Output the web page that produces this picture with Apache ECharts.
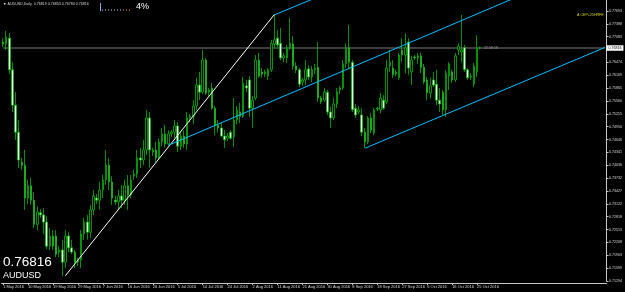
<!DOCTYPE html>
<html><head><meta charset="utf-8">
<script src="https://cdn.jsdelivr.net/npm/echarts@6/dist/echarts.min.js"></script>
<style>html,body{margin:0;padding:0;background:#000}#c{width:625px;height:292px}</style>
</head><body><div id="c"></div>
<script>
// ---- data (AUDUSD daily, 1 May 2016 .. 26 Oct 2016, broker has Sunday bars) ----
const openPrices = [.7696,.7691,.7705,.7630,.7546,.7482,.7411,.7404,.7326,.7355,.7321,.7264,.7291,.7286,.7269,.7212,.7236,.7236,.7198,.7203,
.7174,.7236,.7208,.7198,.7174,.7179,.7241,.7269,.7245,.7298,.7326,.7321,.7345,.7369,.7404,.7364,.7321,.7317,.7331,.7321,
.7355,.7333,.7378,.7383,.7421,.7416,.7440,.7516,.7435,.7440,.7421,.7459,.7478,.7454,.7478,.7482,.7497,.7449,.7473,.7454,
.7516,.7520,.7544,.7594,.7577,.7653,.7577,.7587,.7539,.7499,.7492,.7473,.7468,.7482,.7471,.7511,.7530,.7520,.7592,.7606,
.7539,.7563,.7653,.7625,.7620,.7615,.7630,.7691,.7705,.7693,.7658,.7658,.7682,.7691,.7639,.7630,.7601,.7606,.7632,.7613,
.7630,.7636,.7563,.7558,.7577,.7530,.7516,.7549,.7582,.7587,.7644,.7682,.7648,.7539,.7530,.7523,.7482,.7459,.7516,.7480,
.7537,.7535,.7558,.7554,.7639,.7634,.7620,.7611,.7677,.7665,.7696,.7625,.7660,.7658,.7663,.7636,.7606,.7575,.7606,.7596,
.7558,.7577,.7535,.7615,.7625,.7606,.7677,.7672,.7682,.7630,.7613,.7596,.7625,.76819];
const highPrices = [.7705,.7722,.7717,.7648,.7577,.7511,.7421,.7440,.7369,.7374,.7340,.7307,.7300,.7302,.7283,.7255,.7250,.7250,.7212,.7227,
.7250,.7245,.7227,.7203,.7184,.7250,.7279,.7286,.7310,.7345,.7336,.7364,.7381,.7440,.7421,.7378,.7331,.7345,.7357,.7369,
.7381,.7381,.7393,.7440,.7445,.7464,.7535,.7530,.7445,.7459,.7468,.7492,.7499,.7487,.7487,.7511,.7506,.7482,.7487,.7530,
.7525,.7558,.7611,.7625,.7677,.7658,.7587,.7599,.7544,.7511,.7506,.7487,.7480,.7487,.7563,.7544,.7551,.7613,.7606,.7615,
.7568,.7665,.7670,.7634,.7630,.7634,.7701,.7762,.7724,.7729,.7670,.7689,.7753,.7710,.7648,.7634,.7611,.7653,.7641,.7639,
.7644,.7696,.7568,.7587,.7582,.7542,.7563,.7587,.7592,.7653,.7693,.7736,.7653,.7549,.7544,.7539,.7492,.7520,.7527,.7539,
.7542,.7575,.7570,.7653,.7677,.7653,.7630,.7670,.7705,.7717,.7705,.7663,.7665,.7670,.7670,.7644,.7613,.7611,.7625,.7630,
.7587,.7582,.7630,.7648,.7630,.7670,.7693,.7760,.7689,.7634,.7622,.7646,.7712,.76853];
const lowPrices = [.7684,.7677,.7620,.7530,.7464,.7397,.7393,.7298,.7312,.7310,.7255,.7250,.7279,.7241,.7205,.7203,.7203,.7186,.7186,.7141,
.7160,.7198,.7193,.7160,.7165,.7160,.7227,.7227,.7231,.7286,.7312,.7298,.7326,.7357,.7345,.7310,.7310,.7298,.7302,.7310,
.7298,.7326,.7369,.7374,.7397,.7404,.7428,.7397,.7426,.7411,.7416,.7449,.7445,.7452,.7471,.7468,.7435,.7440,.7445,.7440,
.7506,.7501,.7535,.7558,.7573,.7570,.7568,.7535,.7475,.7482,.7471,.7445,.7461,.7464,.7447,.7501,.7504,.7516,.7577,.7518,
.7492,.7558,.7611,.7611,.7613,.7606,.7625,.7682,.7684,.7653,.7648,.7646,.7677,.7630,.7622,.7589,.7592,.7594,.7606,.7601,
.7620,.7554,.7549,.7554,.7523,.7492,.7511,.7539,.7573,.7582,.7634,.7634,.7530,.7516,.7525,.7473,.7445,.7454,.7480,.7475,
.7532,.7527,.7535,.7549,.7625,.7611,.7615,.7606,.7648,.7622,.7618,.7594,.7653,.7644,.7622,.7596,.7558,.7563,.7589,.7546,
.7530,.7523,.7518,.7582,.7599,.7601,.7665,.7648,.7625,.7606,.7606,.7589,.7613,.76784];
const closePrices = [.7691,.7708,.7630,.7546,.7482,.7416,.7404,.7326,.7355,.7321,.7264,.7293,.7286,.7269,.7212,.7236,.7212,.7193,.7203,.7174,
.7236,.7208,.7198,.7174,.7179,.7241,.7269,.7245,.7298,.7331,.7321,.7345,.7369,.7404,.7364,.7326,.7317,.7331,.7321,.7355,
.7333,.7369,.7383,.7421,.7416,.7440,.7516,.7440,.7440,.7421,.7459,.7478,.7454,.7478,.7482,.7497,.7449,.7473,.7454,.7516,
.7520,.7544,.7594,.7577,.7653,.7575,.7582,.7539,.7499,.7492,.7473,.7464,.7473,.7468,.7511,.7535,.7520,.7599,.7587,.7539,
.7558,.7653,.7615,.7620,.7625,.7630,.7693,.7701,.7689,.7658,.7663,.7682,.7693,.7639,.7630,.7596,.7606,.7630,.7613,.7630,
.7634,.7563,.7554,.7577,.7530,.7516,.7549,.7577,.7587,.7644,.7682,.7648,.7535,.7523,.7535,.7482,.7459,.7516,.7487,.7535,
.7539,.7563,.7539,.7634,.7648,.7618,.7625,.7665,.7665,.7682,.7634,.7653,.7658,.7663,.7636,.7601,.7575,.7592,.7594,.7558,
.7549,.7535,.7622,.7644,.7606,.7663,.7686,.7677,.7630,.7611,.7615,.7639,.7682,.76816];
const bidPrice = 0.76816;
const headerText = '\u25BC AUDUSD,Daily  0.76819 0.76853 0.76784 0.76816';
// trend objects: [bar index, price]
const whiteLine  = [[20, 0.7142], [87, 0.7761]];
const channelMid = [[53, 0.7451], [163, 0.7797]];
const channelTop = [[87, 0.7760], [100, 0.7800]];
const channelLow = [[116, 0.7444], [193, 0.7683]];
const bidLine    = [[0, bidPrice], [193, bidPrice]];
// price-axis scale (labels every 0.003047 starting at the bottom label)
const priceMin = 0.71294, priceMax = 0.77954, priceStep = 0.003047;
const monthNames = ['Jan','Feb','Mar','Apr','May','Jun','Jul','Aug','Sep','Oct','Nov','Dec'];
const barCount = 194; // includes the empty chart-shift area on the right
const categories = [];
const t0 = Date.UTC(2016, 4, 1);
for (let i = 0; i < barCount; i++) {
  const w = Math.floor(i / 6), d = i % 6;
  const t = new Date(t0 + (7 * w + d) * 86400000);
  categories.push(t.getUTCDate() + ' ' + monthNames[t.getUTCMonth()] + ' ' + t.getUTCFullYear());
}
const lastLabelled = 152;
const showLabel = (idx) => idx % 8 === 0 && idx <= lastLabelled;

const candles = openPrices.map((o, i) => [o, closePrices[i], lowPrices[i], highPrices[i]]);
const FONT = '"Liberation Sans", Arial, sans-serif';

const chart = echarts.init(document.getElementById('c'), null, {renderer: 'canvas'});
chart.setOption({
  backgroundColor: '#000',
  animation: false,
  grid: {left: 1.5, right: 18, top: 0, bottom: 11, containLabel: false},
  xAxis: {
    type: 'category', data: categories, boundaryGap: true, offset: 2,
    axisLine: {lineStyle: {color: '#c8c8c8', width: 1}},
    axisTick: {show: true, alignWithLabel: true, interval: (i) => showLabel(i), length: 2, lineStyle: {color: '#c8c8c8'}},
    axisLabel: {interval: (i) => showLabel(i), align: 'left', fontSize: 4, color: '#d8d8d8', margin: 1.5, fontFamily: FONT},
    splitLine: {show: false}
  },
  yAxis: {
    type: 'value', position: 'right', min: priceMin, max: priceMax, interval: priceStep,
    axisLine: {show: true, lineStyle: {color: '#c8c8c8', width: 1}},
    axisTick: {show: true, length: 2, lineStyle: {color: '#c8c8c8'}},
    axisLabel: {fontSize: 3.6, color: '#d8d8d8', margin: 2.5, fontFamily: FONT, showMaxLabel: false,
      formatter: (v) => (Math.abs(v - bidPrice) < priceStep * 0.6 ? '' : v.toFixed(5))},
    splitLine: {show: false}
  },
  series: [
    {type: 'line', z: 1, data: bidLine, symbol: 'none', silent: true,
      lineStyle: {color: '#7a7a7a', width: 1},
      endLabel: {show: true, formatter: bidPrice.toFixed(5), color: '#000', backgroundColor: '#fff',
        fontSize: 3.6, fontFamily: FONT, padding: [1, 2, 0.5, 2], distance: 1.5}},
    {
      type: 'candlestick', z: 2, data: candles, barWidth: 2,
      itemStyle: {color: '#000', color0: '#fff', borderColor: '#00b800', borderColor0: '#00b800', borderWidth: 0.8}
    },
    {type: 'line', z: 5, data: [{value: whiteLine[0], symbol: 'rect', symbolSize: 3}, whiteLine[1]],
      symbol: 'none', showSymbol: true, itemStyle: {color: '#fff'}, lineStyle: {color: '#ffffff', width: 1}},
    {type: 'line', z: 5, data: channelMid, symbol: 'none', lineStyle: {color: '#00bfff', width: 1}},
    {type: 'line', z: 5, data: channelTop, symbol: 'none', lineStyle: {color: '#00bfff', width: 1}},
    {type: 'line', z: 5, data: channelLow, symbol: 'none', lineStyle: {color: '#00bfff', width: 1}}
  ],
  graphic: [
    {type: 'text', x: 3, y: 1.5, style: {text: headerText, fill: '#d8d8d8', font: '3.6px ' + FONT}},
    {type: 'line', shape: {x1: 100.5, y1: 3, x2: 100.5, y2: 11}, style: {stroke: '#7fb0e0', lineWidth: 1}},
    {type: 'line', shape: {x1: 102, y1: 10, x2: 122, y2: 10}, style: {stroke: '#c8d8f0', lineWidth: 1, lineDash: [1, 2]}},
    {type: 'line', shape: {x1: 123, y1: 10, x2: 131, y2: 10}, style: {stroke: '#e0a040', lineWidth: 1, lineDash: [1, 2]}},
    {type: 'text', x: 136, y: 2, style: {text: '4%', fill: '#fff', font: '9px ' + FONT}},
    {type: 'text', x: 577, y: 12.5, style: {text: 'A CEP+25HRFE', fill: '#d4d400', font: '3.6px ' + FONT}},
    {type: 'text', x: 484, y: 45.5, style: {text: '22:58:18', fill: '#a8a8a8', font: '3.6px ' + FONT}},
    {type: 'text', x: 3, y: 255, style: {text: '0.76816', fill: '#fff', font: '13.5px ' + FONT}},
    {type: 'text', x: 3, y: 271.5, style: {text: 'AUDUSD', fill: '#fff', font: '9px ' + FONT}}
  ]
});
</script></body></html>
